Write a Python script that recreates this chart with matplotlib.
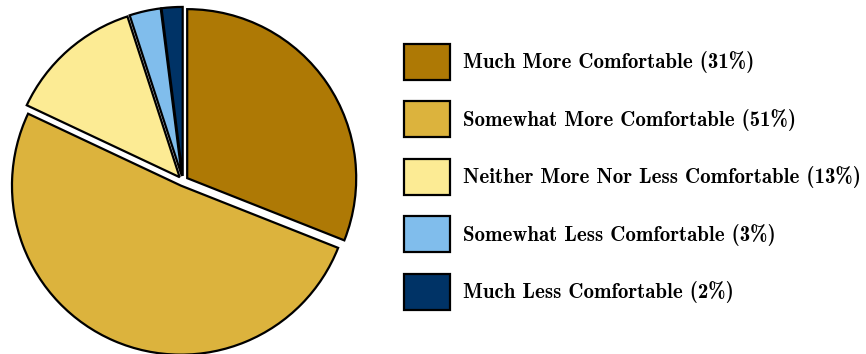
import matplotlib
matplotlib.use("Agg")
import matplotlib.pyplot as plt

labels = [
    "Much More Comfortable (31%)",
    "Somewhat More Comfortable (51%)",
    "Neither More Nor Less Comfortable (13%)",
    "Somewhat Less Comfortable (3%)",
    "Much Less Comfortable (2%)",
]
shares = [31, 51, 13, 3, 2]
colors = ["#ae7905", "#dcb33d", "#fceb94", "#80bdec", "#003366"]

fig = plt.figure(figsize=(8.66, 3.54), dpi=100)

# pie: center ~ (183, 181) px, radius ~ 169 px
r_px = 169
lim = 1.05
half = r_px * lim
ax = fig.add_axes([(183 - half) / 866, (354 - 181 - half) / 354,
                   2 * half / 866, 2 * half / 354])
wedges, _ = ax.pie(shares, colors=colors, startangle=90, counterclock=False,
                   explode=[0.03] * 5,
                   wedgeprops=dict(edgecolor="black", linewidth=1.6))
ax.set_xlim(-lim, lim)
ax.set_ylim(-lim, lim)
ax.set_aspect("equal")
ax.axis("off")

fs = 15
fig.legend(wedges, labels, loc="upper left",
           bbox_to_anchor=(404 / 866, 1 - 44 / 354),
           frameon=False, borderpad=0, borderaxespad=0,
           prop=dict(family="cmb10", size=fs),
           handlelength=2.21, handleheight=2.28,
           labelspacing=1.03, handletextpad=0.6)

fig.savefig("out.png", dpi=100)
